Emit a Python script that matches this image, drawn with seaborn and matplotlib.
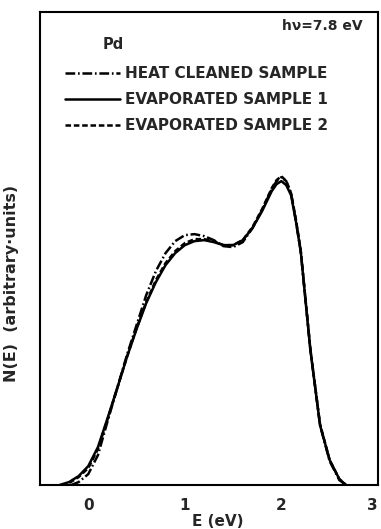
import matplotlib
matplotlib.use("Agg")
import matplotlib.pyplot as plt
import seaborn as sns

# Photoemission energy distribution curves for Pd, hv = 7.8 eV
energy_heat = [-0.18, -0.1, 0.0, 0.1, 0.2, 0.3, 0.4, 0.5, 0.6, 0.7, 0.8, 0.9, 1.0, 1.1,
               1.2, 1.3, 1.4, 1.5, 1.6, 1.7, 1.8, 1.9, 1.95, 2.0, 2.05, 2.1, 2.15, 2.2,
               2.3, 2.4, 2.5, 2.6, 2.67]
n_heat = [0, 3, 11, 30, 64, 97, 130, 160, 190, 214, 232, 244, 250, 251,
          249, 245, 239, 238, 243, 257, 275, 296, 304, 308, 304, 292, 264, 234,
          136, 60, 24, 5, 0]

energy_evap1 = [-0.3, -0.2, -0.1, 0.0, 0.1, 0.2, 0.3, 0.4, 0.5, 0.6, 0.7, 0.8, 0.9, 1.0,
                1.1, 1.2, 1.3, 1.4, 1.5, 1.6, 1.7, 1.8, 1.9, 1.95, 2.0, 2.05, 2.1, 2.15,
                2.2, 2.3, 2.4, 2.5, 2.6, 2.67]
n_evap1 = [0, 3, 9, 19, 38, 67, 97, 128, 156, 182, 203, 220, 232, 240,
           244, 245, 243, 240, 240, 245, 257, 274, 294, 301, 304, 300, 290, 264,
           234, 135, 60, 25, 6, 0]

energy_evap2 = [-0.28, -0.2, -0.1, 0.0, 0.1, 0.2, 0.3, 0.4, 0.5, 0.6, 0.7, 0.8, 0.9, 1.0,
                1.1, 1.2, 1.3, 1.4, 1.5, 1.6, 1.7, 1.8, 1.9, 1.95, 2.0, 2.05, 2.1, 2.15,
                2.2, 2.3, 2.4, 2.5, 2.6, 2.67]
n_evap2 = [0, 2, 8, 17, 36, 66, 97, 128, 157, 183, 205, 222, 234, 242,
           246, 246, 244, 240, 240, 245, 258, 276, 297, 305, 309, 304, 292, 266,
           235, 136, 61, 25, 6, 0]

labels = ["HEAT CLEANED SAMPLE", "EVAPORATED SAMPLE 1", "EVAPORATED SAMPLE 2"]
x_ticks = [0, 1, 2, 3]
x_ticklabels = ["0", "1", "2", "3"]

sns.set_style("white")
plt.rcParams["font.family"] = ["DejaVu Sans"]
plt.rcParams["lines.scale_dashes"] = False

fig = plt.figure(figsize=(3.81, 5.29), dpi=100)
ax = fig.add_axes([0.105, 0.083, 0.887, 0.894])

styles = [(0, (7, 2, 1.2, 2)), "-", (0, (4, 2))]
series = [(energy_heat, n_heat), (energy_evap1, n_evap1), (energy_evap2, n_evap2)]
for (e, n), ls, lab in zip(series, styles, labels):
    sns.lineplot(x=e, y=n, ax=ax, color="black", linestyle=ls, linewidth=1.8,
                 sort=False, estimator=None, label=lab)

ax.set_xlim(-0.5, 3.0)
ax.set_ylim(0, 473)
ax.set_xticks(x_ticks)
ax.set_xticklabels(x_ticklabels, fontsize=11, fontweight="bold")
ax.get_xticklabels()[-1].set_horizontalalignment("right")
ax.set_yticks([])
ax.tick_params(axis="x", direction="in", length=8, width=1.4, pad=9, color="black")
for sp in ax.spines.values():
    sp.set_color("black")
    sp.set_linewidth(1.5)

ax.set_xlabel("E (eV)", fontsize=11, fontweight="bold")
ax.xaxis.set_label_coords(0.525, -0.062)
ax.set_ylabel("N(E)  (arbitrary·units)", fontsize=11.5, fontweight="bold")
ax.yaxis.set_label_coords(-0.062, 0.427)

ax.text(0.186, 0.932, "Pd", transform=ax.transAxes, fontsize=10.5, fontweight="bold",
        ha="left", va="center")
ax.text(0.956, 0.970, "hν=7.8 eV", transform=ax.transAxes, fontsize=10,
        fontweight="bold", ha="right", va="center")

leg = ax.legend(loc="upper left", bbox_to_anchor=(0.055, 0.899), frameon=False,
                handlelength=3.6, handletextpad=0.35, labelspacing=0.73,
                borderaxespad=0.0, prop={"weight": "bold", "size": 11})

fig.savefig("out.png", dpi=100, facecolor="white")
